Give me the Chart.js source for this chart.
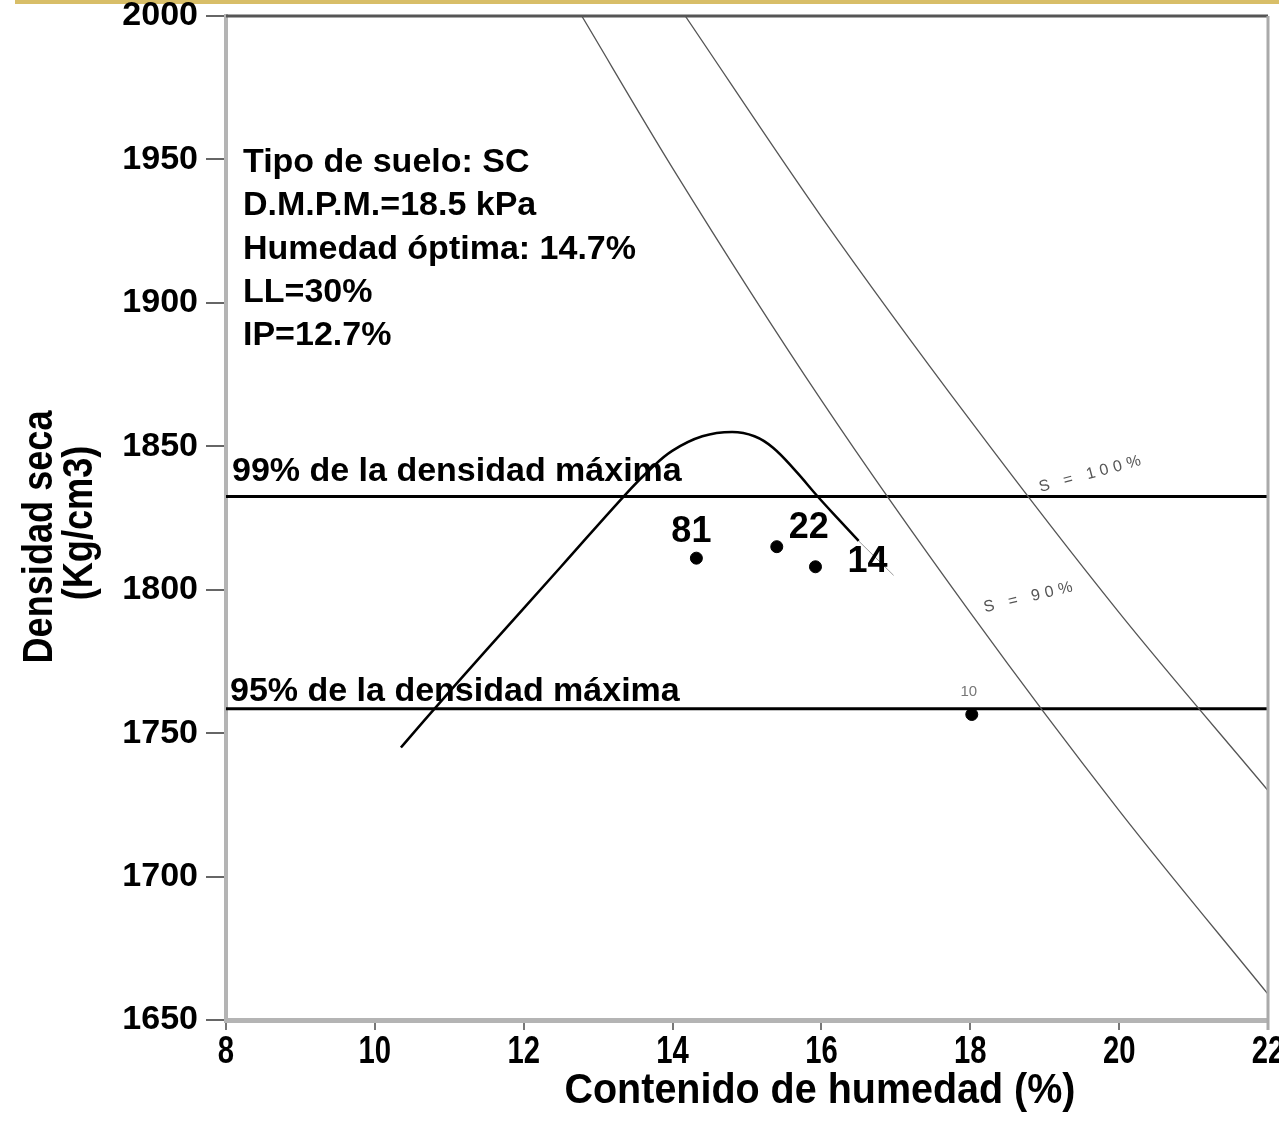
<!DOCTYPE html>
<html>
<head>
<meta charset="utf-8">
<script src="https://cdn.jsdelivr.net/npm/chart.js@4.4.1/dist/chart.umd.min.js"></script>
<style>
  html, body { margin: 0; padding: 0; background: #fff; }
  #caja { position: relative; width: 1279px; height: 1126px; }
</style>
</head>
<body>
<div id="caja"><canvas id="grafico"></canvas></div>
<script>
// curva de compactacion
const humedadCurva = [10.35, 10.75, 11.5, 12.5, 13.36, 13.7, 14.0, 14.4, 14.8, 15.1, 15.35, 15.65, 15.95, 16.25, 16.5];
const densidadCurva = [1745, 1757, 1779, 1808, 1833, 1842, 1848.5, 1853.5, 1855, 1853.5, 1849.5, 1841.5, 1832.5, 1824, 1817];
const humedadCola = [16.5, 16.97];
const densidadCola = [1817, 1805];

// puntos de campo
const humedadPuntos = [14.32, 15.4, 15.92, 18.02];
const densidadPuntos = [1811, 1815, 1808, 1756.5];
const etiquetasPuntos = ['81', '22', '14', '10'];

// curvas de saturacion
const humedadS100 = [14.17, 16, 18, 20, 22];
const densidadS100 = [2000, 1930, 1859, 1792, 1730];
const humedadS90 = [12.78, 14, 16, 18, 20, 22];
const densidadS90 = [2000, 1947, 1866, 1792, 1723, 1659];

// densidades de referencia
const densidad99 = 1832.5;
const densidad95 = 1758.5;

const ticksX = [8, 10, 12, 14, 16, 18, 20, 22];
const ticksY = [1650, 1700, 1750, 1800, 1850, 1900, 1950, 2000];

const textoInfo = ['Tipo de suelo: SC', 'D.M.P.M.=18.5 kPa', 'Humedad óptima: 14.7%', 'LL=30%', 'IP=12.7%'];
const tituloX = 'Contenido de humedad (%)';
const tituloY = ['Densidad seca', '(Kg/cm3)'];

const pares = (xs, ys) => xs.map((v, i) => ({ x: v, y: ys[i] }));

const FUENTE = "'Liberation Sans', Arial, sans-serif";

// texto con compresion horizontal (la fuente original es mas estrecha)
function textoEstrecho(ctx, t, x, y, sx, rot) {
  ctx.save();
  ctx.translate(x, y);
  if (rot) ctx.rotate(rot);
  ctx.scale(sx, 1);
  ctx.fillText(t, 0, 0);
  ctx.restore();
}

const anotaciones = {
  id: 'anotaciones',
  beforeDraw(chart) {
    const ctx = chart.ctx;
    ctx.save();
    ctx.fillStyle = '#d8be68';
    ctx.fillRect(15, 0, chart.width, 4);
    ctx.restore();
  },
  afterDatasetsDraw(chart) {
    const { ctx, chartArea: a, scales: { x, y } } = chart;
    ctx.save();
    // bordes superior y derecho
    ctx.strokeStyle = '#555';
    ctx.lineWidth = 3;
    ctx.beginPath(); ctx.moveTo(a.left, a.top); ctx.lineTo(a.right, a.top); ctx.stroke();
    ctx.strokeStyle = '#aaa';
    ctx.beginPath(); ctx.moveTo(a.right, a.top); ctx.lineTo(a.right, a.bottom + 10); ctx.stroke();

    // etiquetas del eje x y titulos
    ctx.fillStyle = '#000';
    ctx.textAlign = 'center';
    ctx.textBaseline = 'alphabetic';
    ctx.font = 'bold 39px ' + FUENTE;
    x.ticks.forEach(t => {
      textoEstrecho(ctx, String(t.value), x.getPixelForValue(t.value), a.bottom + 43, 0.75);
    });
    ctx.font = 'bold 42px ' + FUENTE;
    textoEstrecho(ctx, tituloX, (a.left + a.right) / 2 + 73, a.bottom + 83, 0.94);
    ctx.textBaseline = 'middle';
    textoEstrecho(ctx, tituloY[0], 40, a.top + 521, 0.86, -Math.PI / 2);
    textoEstrecho(ctx, tituloY[1], 80, a.top + 507, 0.86, -Math.PI / 2);

    ctx.textAlign = 'left';
    ctx.textBaseline = 'alphabetic';
    ctx.font = 'bold 34px ' + FUENTE;
    textoInfo.forEach((t, i) => ctx.fillText(t, a.left + 17, a.top + 156 + i * 43.3));

    ctx.fillText('99% de la densidad máxima', a.left + 6, y.getPixelForValue(densidad99) - 15);
    ctx.fillText('95% de la densidad máxima', a.left + 4, y.getPixelForValue(densidad95) - 8);

    // etiquetas de puntos
    const desp = [[-5, -16], [32, -9], [52, 5], [-3, -18]];
    ctx.textAlign = 'center';
    etiquetasPuntos.forEach((t, i) => {
      const px = x.getPixelForValue(humedadPuntos[i]);
      const py = y.getPixelForValue(densidadPuntos[i]);
      if (i === 3) {
        ctx.font = '15px ' + FUENTE;
        ctx.fillStyle = '#777';
      } else {
        ctx.font = 'bold 36px ' + FUENTE;
        ctx.fillStyle = '#000';
      }
      ctx.fillText(t, px + desp[i][0], py + desp[i][1]);
    });

    // etiquetas de saturacion
    ctx.fillStyle = '#555';
    ctx.font = '16px ' + FUENTE;
    ctx.textAlign = 'center';
    ctx.textBaseline = 'middle';
    const rotulo = (t, px, py, ang) => {
      ctx.save();
      ctx.translate(px, py);
      ctx.rotate(ang * Math.PI / 180);
      if ('letterSpacing' in ctx) ctx.letterSpacing = '5px';
      ctx.fillText(t, 0, 0);
      ctx.restore();
    };
    rotulo('S = 100%', x.getPixelForValue(19.64), y.getPixelForValue(1840.5), -15);
    rotulo('S = 90%', x.getPixelForValue(18.81), y.getPixelForValue(1797.5), -13.5);
    ctx.restore();
  }
};

const ctx = document.getElementById('grafico').getContext('2d');
const grafico = new Chart(ctx, {
  type: 'scatter',
  data: {
    datasets: [
      {
        data: pares(humedadCurva, densidadCurva),
        showLine: true,
        borderColor: '#000',
        borderWidth: 2.5,
        pointRadius: 0,
        tension: 0.4
      },
      {
        data: pares(humedadCola, densidadCola),
        showLine: true,
        borderColor: '#999',
        borderWidth: 1,
        pointRadius: 0
      },
      {
        data: pares(humedadS100, densidadS100),
        showLine: true,
        borderColor: '#555',
        borderWidth: 1.3,
        pointRadius: 0,
        cubicInterpolationMode: 'monotone'
      },
      {
        data: pares(humedadS90, densidadS90),
        showLine: true,
        borderColor: '#555',
        borderWidth: 1.3,
        pointRadius: 0,
        cubicInterpolationMode: 'monotone'
      },
      {
        data: pares([8, 22], [densidad99, densidad99]),
        showLine: true,
        borderColor: '#000',
        borderWidth: 3,
        pointRadius: 0
      },
      {
        data: pares([8, 22], [densidad95, densidad95]),
        showLine: true,
        borderColor: '#000',
        borderWidth: 3,
        pointRadius: 0
      },
      {
        data: pares(humedadPuntos, densidadPuntos),
        showLine: false,
        backgroundColor: '#000',
        borderColor: '#000',
        pointRadius: 6,
        pointHoverRadius: 6
      }
    ]
  },
  options: {
    responsive: true,
    maintainAspectRatio: false,
    animation: false,
    events: [],
    layout: { padding: { top: 16, right: 11, left: 0, bottom: 0 } },
    plugins: {
      legend: { display: false },
      tooltip: { enabled: false }
    },
    scales: {
      x: {
        type: 'linear',
        min: 8,
        max: 22,
        afterFit: s => { s.height = 106; s.paddingLeft = 0; s.paddingRight = 0; },
        afterBuildTicks: s => { s.ticks = ticksX.map(v => ({ value: v })); },
        ticks: { display: false },
        grid: { drawOnChartArea: false, tickLength: 10, color: '#777', lineWidth: 2 },
        border: { color: '#b4b4b4', width: 5 }
      },
      y: {
        type: 'linear',
        min: 1650,
        max: 2000,
        afterFit: s => { s.width = 226; s.paddingTop = 0; s.paddingBottom = 0; },
        afterBuildTicks: s => { s.ticks = ticksY.map(v => ({ value: v })); },
        ticks: {
          color: '#000',
          padding: 8,
          callback: v => String(v),
          font: { family: FUENTE, size: 34, weight: 'bold' }
        },
        grid: { drawOnChartArea: false, tickLength: 20, color: '#666', lineWidth: 2 },
        border: { color: '#b4b4b4', width: 4 }
      }
    }
  },
  plugins: [anotaciones]
});
</script>
</body>
</html>
